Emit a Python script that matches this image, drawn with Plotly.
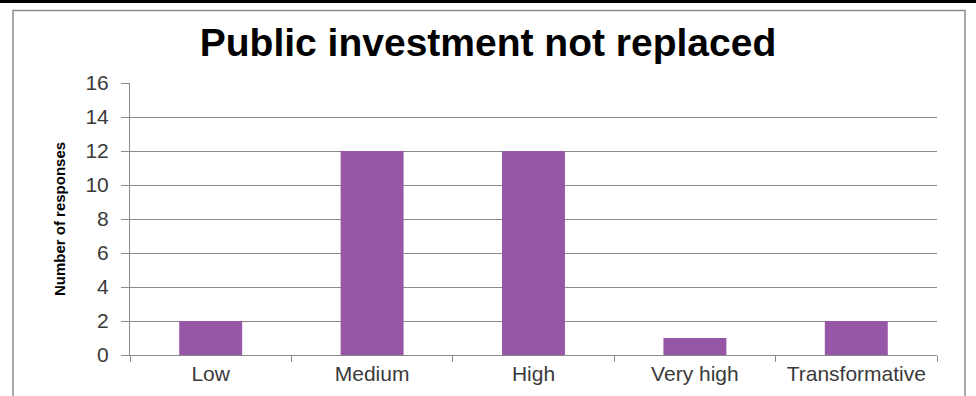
import plotly.graph_objects as go

# Survey results: impact rating when public investment is not replaced
categories = ["Low", "Medium", "High", "Very high", "Transformative"]
responses = [2, 12, 12, 1, 2]
y_ticks = [0, 2, 4, 6, 8, 10, 12, 14, 16]

chart_title = "Public investment not replaced"
y_label = "Number of responses"

BAR_COLOR = "#9657A6"
GRID_COLOR = "#8a8a8a"
TEXT_COLOR = "#3a3a3a"

fig = go.Figure(
    go.Bar(
        x=categories,
        y=responses,
        marker=dict(color=BAR_COLOR, line=dict(width=0)),
        width=0.39,
    )
)

W, H = 976, 396
L, R, T, B = 130, 39, 83, 41
pw, ph = W - L - R, H - T - B


def px_x(v):
    return (v - L) / pw


def px_y(v):
    return (H - B - v) / ph


fig.update_layout(
    width=W,
    height=H,
    margin=dict(l=L, r=R, t=T, b=B),
    paper_bgcolor="white",
    plot_bgcolor="white",
    showlegend=False,
    title=dict(
        text=chart_title,
        x=0.5,
        xanchor="center",
        y=1 - 42 / H,
        yanchor="middle",
        font=dict(family="Liberation Sans, Arial, sans-serif", size=39, color="#000000", weight="bold"),
    ),
    font=dict(family="Liberation Sans, Arial, sans-serif", color=TEXT_COLOR),
    shapes=[
        # outer chart frame
        dict(type="rect", xref="paper", yref="paper",
             x0=px_x(13), x1=px_x(965), y0=px_y(420), y1=px_y(10.5),
             line=dict(color="#8c8c8c", width=1.5), fillcolor="rgba(0,0,0,0)", layer="below"),
        # heavy rule across the top
        dict(type="line", xref="paper", yref="paper",
             x0=px_x(-5), x1=px_x(W + 5), y0=px_y(1.5), y1=px_y(1.5),
             line=dict(color="#000000", width=3)),
    ],
)

fig.update_xaxes(
    type="category",
    showline=True,
    linecolor=GRID_COLOR,
    linewidth=1,
    ticks="outside",
    tickson="boundaries",
    ticklen=6,
    tickcolor=GRID_COLOR,
    tickfont=dict(size=21, color=TEXT_COLOR),
    showgrid=False,
)

fig.update_yaxes(
    range=[0, 16],
    tickvals=y_ticks,
    showline=True,
    linecolor=GRID_COLOR,
    linewidth=1,
    ticks="outside",
    ticklen=8,
    tickcolor=GRID_COLOR,
    tickfont=dict(size=21, color=TEXT_COLOR),
    ticklabelstandoff=8,
    showgrid=True,
    gridcolor=GRID_COLOR,
    gridwidth=1,
    zeroline=False,
    title=dict(
        text=y_label,
        standoff=16,
        font=dict(family="Liberation Sans, Arial, sans-serif",
                  size=15, color="#000000", weight="bold"),
    ),
)

fig.write_html("out.html")
